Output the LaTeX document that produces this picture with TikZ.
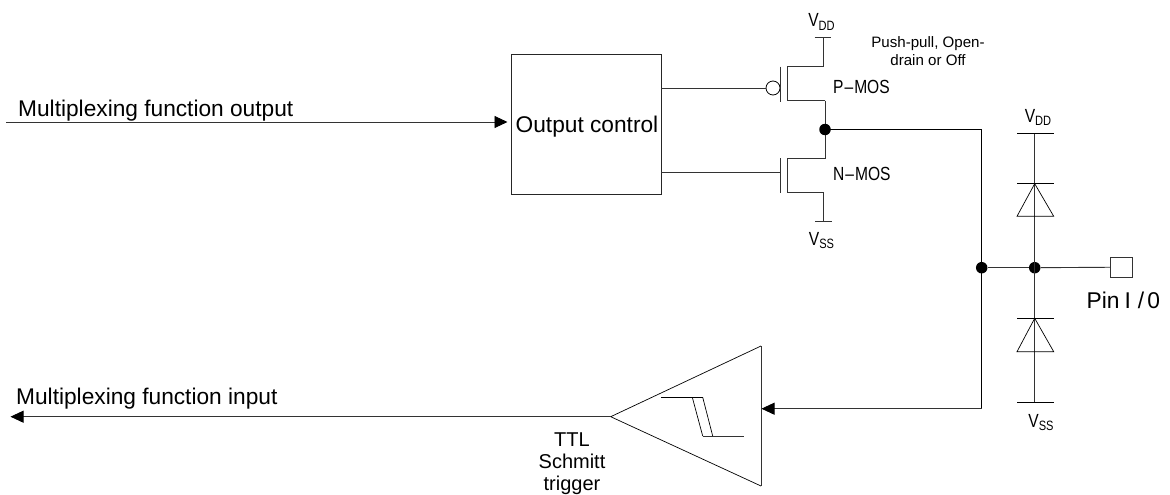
\documentclass[tikz,border=0pt]{standalone}
\usepackage{fontspec}
\setmainfont{Liberation Sans}
\newfontfamily\narrowfont[FakeStretch=0.82]{Liberation Sans}
\usetikzlibrary{arrows.meta}
\tikzset{
  x=1pt,y=-1pt,
  wire/.style={draw=black!80,line width=0.9pt},
  thin wire/.style={draw=black,line width=0.7pt},
  flow/.style={wire,-{Triangle[black,length=13pt,width=12pt]}},
  dot/.style={circle,fill=black,inner sep=0pt,minimum size=11.5pt},
  lbl/.style={inner sep=0pt,anchor=base west,text=black},
  big/.style={lbl,font=\fontsize{22.7}{26}\selectfont},
  ctr/.style={inner sep=0pt,anchor=base,text=black,align=center},
  trig/.style={ctr,font=\fontsize{20}{24}\selectfont},
  note/.style={ctr,font=\fontsize{15.1}{18}\selectfont},
  mos/.style={lbl,font=\narrowfont\fontsize{19}{22}\selectfont},
  rail/.style={inner sep=0pt,anchor=base,text=black,font=\narrowfont\fontsize{19}{22}\selectfont},
  pinbox/.style={draw=black!80,line width=0.8pt,fill=white,minimum width=22pt,minimum height=20.5pt,inner sep=0pt},
  ctlbox/.style={draw=black!85,line width=0.9pt,fill=white,minimum width=150pt,minimum height=140.5pt,inner sep=0pt},
  bubble/.style={circle,draw=black,line width=0.8pt,fill=white,minimum size=14pt,inner sep=0pt},
}
\newcommand{\subs}[1]{\raisebox{-0.18em}{\fontsize{13.5}{14}\selectfont #1}}
\begin{document}
\begin{tikzpicture}
\useasboundingbox (0,0) rectangle (1170,495);
\fill[white] (0,0) rectangle (1170,495);
% control box
\node[ctlbox] (ctl) at (586,124.5) {};
\node[big] (ctltext) at (515.5,132) {Output control};
% output signal
\coordinate (outsrc) at (6,122);
\coordinate (outdst) at (507.5,122);
\draw[flow] (outsrc) -- (outdst);
\node[big] (outlabel) at (18,116) {Multiplexing function output};
% P-MOS
\coordinate (pg) at (661,88);
\node[bubble] (bub) at (773,88) {};
\draw[wire] (pg) -- (bub);
\coordinate (pgt) at (780,66.7); \coordinate (pgb) at (780,102);
\draw[wire] (pgt) -- (pgb);
\coordinate (pst) at (787.5,66.7); \coordinate (psb) at (787.5,100.7);
\coordinate (pdt) at (823,66.7); \coordinate (pdb) at (825,100.7);
\coordinate (vddtop) at (823,37.5);
\coordinate (vddL) at (814.5,37.5); \coordinate (vddR) at (831,37.5);
\draw[wire] (vddL) -- (vddR);
\draw[wire] (vddtop) -- (pdt) -- (pst) -- (psb) -- (pdb);
% N-MOS
\coordinate (ng) at (661,172);
\coordinate (ngate) at (780,172);
\draw[wire] (ng) -- (ngate);
\coordinate (ngt) at (780,158); \coordinate (ngb) at (780,193);
\draw[wire] (ngt) -- (ngb);
\coordinate (nst) at (787.5,158); \coordinate (nsb) at (787.5,192);
\coordinate (ndt) at (825,158); \coordinate (ndb) at (823.5,192);
\coordinate (vssbot) at (823.5,221);
\coordinate (vssL) at (815,221); \coordinate (vssR) at (831.5,221);
\draw[wire] (vssL) -- (vssR);
\draw[wire] (pdb) -- (ndt) -- (nst) -- (nsb) -- (ndb) -- (vssbot);
% output net
\node[dot] (mid) at (825,129.5) {};
\node[dot] (j1) at (981.7,267.7) {};
\node[dot] (j2) at (1034.7,267.7) {};
\coordinate (c1) at (981.7,129.5);
\coordinate (c2) at (981.7,408.7);
\coordinate (stin) at (761.5,408.7);
\draw[thin wire] (mid.center) -- (c1) -- (c2);
\draw[flow] (c2) -- (stin);
% pin
\node[pinbox] (pin) at (1121.5,267.2) {};
\draw[wire] (j1) -- (j2);
\draw[wire] (j2) -- (pin);
\node[inner sep=0pt,anchor=base west,font=\fontsize{22.8}{26}\selectfont] (pinlabel) at (1086.5,308) {Pin\kern5pt I\kern7pt/\kern3pt 0};
% clamp rail
\coordinate (cvdd) at (1034.7,133); \coordinate (cvss) at (1034.7,402.3);
\draw[wire] (cvdd) -- (cvss);
\draw[thin wire] (1017,133) -- (1053.7,133);
\draw[thin wire] (1017,183.7) -- (1053.7,183.7);
\draw[thin wire] (1034.7,183.7) -- (1017,216.3) -- (1053.7,216.3) -- cycle;
\draw[thin wire] (1017,318.3) -- (1053.7,318.3);
\draw[thin wire] (1034.7,318.3) -- (1017,351.7) -- (1053.7,351.7) -- cycle;
\draw[thin wire] (1017,402.3) -- (1053.7,402.3);
% Schmitt trigger
\coordinate (sa) at (610.7,416.7);
\draw[thin wire] (761,346) -- (sa) -- (761,486);
\draw[wire] (761,346) -- (761,486);
\draw[thin wire] (661,397.3) -- (702.7,397.3);
\draw[thin wire] (692.3,397.3) -- (702.7,436);
\draw[thin wire] (702.7,397.3) -- (712.7,436);
\draw[wire] (702.7,436) -- (744,436);
\coordinate (insink) at (10.5,416.7);
\draw[flow] (sa) -- (insink);
\node[big] (inlabel) at (16,404) {Multiplexing function input};
\node[trig] (ttl) at (572,446) {TTL};
\node[trig] (sch) at (572,468.5) {Schmitt};
\node[trig] (trg) at (572,490) {trigger};
% note
\node[note] (n1) at (928,48) {Push-pull, Open-};
\node[note] (n2) at (928,66) {drain or Off};
% labels
\node[mos] (pmos) at (833,93) {P\kern1pt\textendash\kern1pt MOS};
\node[mos] (nmos) at (833,180) {N\kern1pt\textendash\kern1pt MOS};
\node[rail] (v1) at (821.5,27) {V\subs{DD}};
\node[rail] (v2) at (821.5,245) {V\subs{SS}};
\node[rail] (v3) at (1038,122) {V\subs{DD}};
\node[rail] (v4) at (1041,427) {V\subs{SS}};
\end{tikzpicture}
\end{document}
